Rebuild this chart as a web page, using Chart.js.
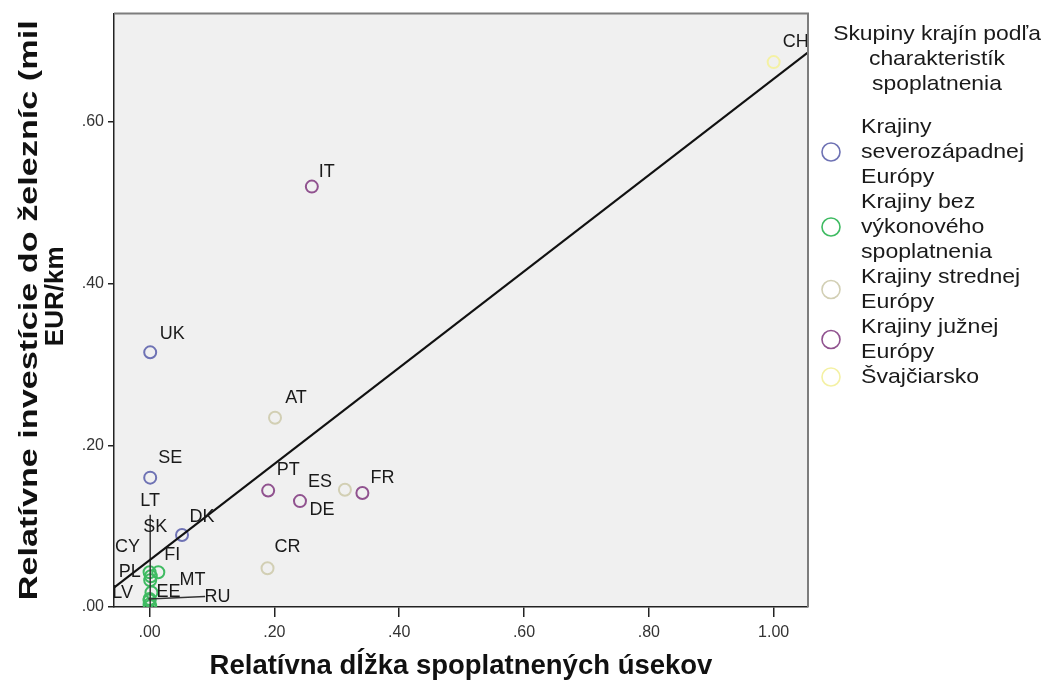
<!DOCTYPE html>
<html><head><meta charset="utf-8">
<script src="https://cdn.jsdelivr.net/npm/chart.js@4.4.0/dist/chart.umd.min.js"></script>
<style>html,body{margin:0;padding:0;background:#fff;}#wrap{width:1054px;height:692px;}</style>
</head><body><div id="wrap"><canvas id="c" width="1054" height="692"></canvas></div>
<script>
// ---- data ----
const countries = ['CH','IT','UK','AT','SE','PT','ES','DE','FR','DK','CR','FI','LT','SK','CY','PL','LV','EE','MT','RU'];
const xValues  = [1.000,0.260,0.001,0.201,0.001,0.190,0.241,0.313,0.341,0.052,0.189,0.014,0.001,0.001,0.000,0.002,0.000,0.003,0.000,0.000];
const yValues  = [0.674,0.520,0.315,0.234,0.160,0.144,0.131,0.145,0.141,0.089,0.048,0.043,0.001,0.033,0.043,0.038,0.008,0.018,0.003,0.010];
const groupOf  = [4,3,0,2,0,3,3,2,3,0,2,1,1,1,1,1,1,1,1,1];
const groupNames = ['Krajiny severozápadnej Európy','Krajiny bez výkonového spoplatnenia','Krajiny strednej Európy','Krajiny južnej Európy','Švajčiarsko'];
const legendLines = [['Krajiny','severozápadnej','Európy'],['Krajiny bez','výkonového','spoplatnenia'],['Krajiny strednej','Európy'],['Krajiny južnej','Európy'],['Švajčiarsko']];
const legendTitle = ['Skupiny krajín podľa','charakteristík','spoplatnenia'];
const xTicks = [0,0.2,0.4,0.6,0.8,1.0];
const xTickLabels = ['.00','.20','.40','.60','.80','1.00'];
const yTicks = [0,0.2,0.4,0.6];
const yTickLabels = ['.00','.20','.40','.60'];
const fitX = [-0.057,1.055];
const fitY = [0.024,0.686];
const leaderLTx = [0.001,0.001], leaderLTy = [0.114,0.0];
const leaderRUx = [-0.002,0.089], leaderRUy = [0.010,0.013];
const xTitle = 'Relatívna dĺžka spoplatnených úsekov';
const yTitle = ['Relatívne investície do železníc (mil','EUR/km'];

// ---- style ----
const groupColors = ['#6e72b4','#3fbb62','#d2cfb4','#90528f','#f4f1a4'];
const labelOffsets = {CH:[22,-20],IT:[15,-15],UK:[22,-18],AT:[21,-20],SE:[20,-20],PT:[20,-21],ES:[20,-19],DE:[-23,20],FR:[20,-15],DK:[20,-18],CR:[20,-21],FI:[14,-17],LT:[0,-105],SK:[5,-53],CY:[-22,-25],PL:[-21,-4],LV:[-27,-8],EE:[17,0],MT:[43,-25],RU:[68,-2]};
const FONT = '"Liberation Sans", Arial, sans-serif';

const datasets = [];
groupNames.forEach((g, gi) => {
  const pts = [];
  countries.forEach((c, i) => { if (groupOf[i] === gi) pts.push({x:xValues[i], y:yValues[i], name:c}); });
  datasets.push({type:'scatter', label:g, data:pts, isPoints:true, pointStyle:'circle', pointRadius:6, pointHoverRadius:6,
    borderColor:groupColors[gi], backgroundColor:'rgba(0,0,0,0)', pointBorderWidth:2, borderWidth:2, order:2});
});
datasets.push({type:'line', label:'fit', data:fitX.map((x,i)=>({x, y:fitY[i]})), borderColor:'#111', borderWidth:2, pointRadius:0, fill:false, order:1});
datasets.push({type:'line', label:'ltLeader', data:leaderLTx.map((x,i)=>({x, y:leaderLTy[i]})), borderColor:'#333', borderWidth:1.5, pointRadius:0, fill:false, order:1});
datasets.push({type:'line', label:'ruLeader', data:leaderRUx.map((x,i)=>({x, y:leaderRUy[i]})), borderColor:'#333', borderWidth:1.5, pointRadius:0, fill:false, order:1});

function stretchText(ctx, text, x, y, sx, align){
  ctx.save(); ctx.translate(x,y); ctx.scale(sx,1); ctx.textAlign=align; ctx.fillText(text,0,0); ctx.restore();
}

const bgPlugin = {
  id:'plotBg',
  beforeDraw(chart){
    const {ctx, chartArea:a} = chart;
    ctx.save(); ctx.fillStyle='#fff'; ctx.fillRect(0,0,chart.width,chart.height);
    ctx.fillStyle='#f0f0f0'; ctx.fillRect(a.left,a.top,a.right-a.left,a.bottom-a.top); ctx.restore();
  },
  afterDraw(chart){
    const {ctx, chartArea:a} = chart;
    ctx.save(); ctx.strokeStyle='#7d7d7d'; ctx.lineWidth=2;
    ctx.beginPath(); ctx.moveTo(a.left,a.top); ctx.lineTo(a.right,a.top); ctx.lineTo(a.right,a.bottom); ctx.stroke();
    // y axis title (stretched along its length like the original)
    ctx.fillStyle='#111'; ctx.font='bold 26px '+FONT; ctx.textBaseline='middle';
    const cy = (a.top + a.bottom)/2;
    ctx.save(); ctx.translate(30, cy); ctx.rotate(-Math.PI/2);
    const w1 = ctx.measureText(yTitle[0]).width;
    stretchText(ctx, yTitle[0], 0, 0, 580/w1, 'center');
    stretchText(ctx, yTitle[1], 14, 26, 1, 'center');
    ctx.restore();
    ctx.restore();
  }
};
const labelPlugin = {
  id:'ptLabels',
  afterDatasetsDraw(chart){
    const {ctx, chartArea:a} = chart;
    ctx.save();
    ctx.beginPath(); ctx.rect(a.left,a.top,a.right-a.left,a.bottom-a.top); ctx.clip();
    ctx.font = '18px ' + FONT; ctx.fillStyle='#1a1a1a'; ctx.textAlign='center'; ctx.textBaseline='middle';
    chart.data.datasets.forEach((ds, di) => {
      if (!ds.isPoints) return;
      chart.getDatasetMeta(di).data.forEach((el, i) => {
        const n = ds.data[i].name; const o = labelOffsets[n] || [18,-18];
        ctx.fillText(n, el.x + o[0], el.y + o[1]);
      });
    });
    ctx.restore();
  }
};
const legendPlugin = {
  id:'sideLegend',
  afterDraw(chart){
    const ctx = chart.ctx;
    ctx.save();
    ctx.font = '21px ' + FONT; ctx.fillStyle='#1a1a1a'; ctx.textBaseline='middle';
    legendTitle.forEach((t,i)=>stretchText(ctx, t, 937, 34 + i*25, 1.09, 'center'));
    let y = 127;
    legendLines.forEach((lines, gi) => {
      const cy = y + (lines.length-1)*25/2;
      ctx.beginPath(); ctx.arc(831, cy, 9, 0, Math.PI*2); ctx.strokeStyle=groupColors[gi]; ctx.lineWidth=1.6; ctx.stroke();
      lines.forEach((t,k)=>stretchText(ctx, t, 861, y + k*25, 1.1, 'left'));
      y += lines.length*25;
    });
    ctx.restore();
  }
};

new Chart(document.getElementById('c'), {
  data:{datasets},
  options:{
    responsive:false, animation:false, devicePixelRatio:1,
    layout:{padding:{left:0, right:246, top:13, bottom:0}},
    plugins:{legend:{display:false}, tooltip:{enabled:false}},
    scales:{
      x:{type:'linear', min:-0.057, max:1.055,
        afterBuildTicks:s=>{s.ticks = xTicks.map(v=>({value:v}));},
        afterFit:s=>{s.height = 85;},
        ticks:{color:'#333', font:{size:16, family:FONT}, padding:6, autoSkip:false, maxRotation:0,
          callback:v=>xTickLabels[xTicks.indexOf(v)]},
        grid:{drawOnChartArea:false, drawTicks:true, tickLength:10, color:'#222', lineWidth:1.5},
        border:{display:true, color:'#222', width:1.5},
        title:{display:true, text:xTitle, color:'#111', font:{size:27.5, weight:'bold', family:FONT}, padding:{top:0,bottom:9}}
      },
      y:{type:'linear', min:0, max:0.734,
        afterBuildTicks:s=>{s.ticks = yTicks.map(v=>({value:v}));},
        afterFit:s=>{s.width = 114;},
        ticks:{color:'#333', font:{size:16, family:FONT}, padding:4, autoSkip:false,
          callback:v=>yTickLabels[yTicks.indexOf(v)]},
        grid:{drawOnChartArea:false, drawTicks:true, tickLength:6, color:'#222', lineWidth:1.5},
        border:{display:true, color:'#222', width:1.5},
        title:{display:false}
      }
    }
  },
  plugins:[bgPlugin, labelPlugin, legendPlugin]
});
</script></body></html>
